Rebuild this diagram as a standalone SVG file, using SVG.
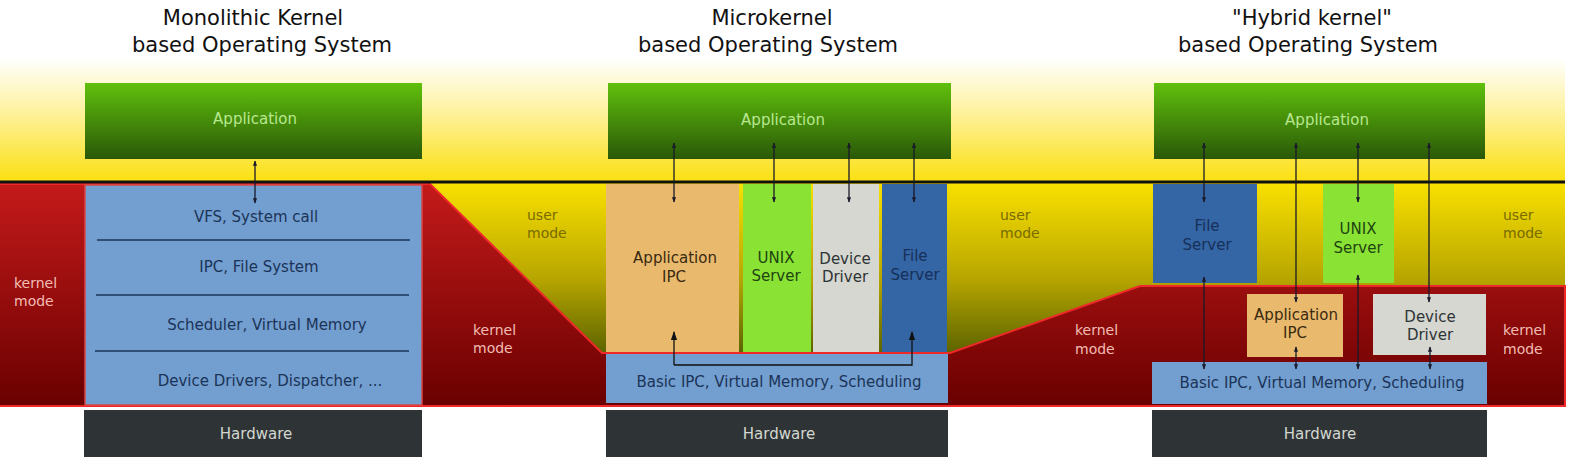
<svg xmlns="http://www.w3.org/2000/svg" width="1573" height="460" viewBox="0 0 1573 460">
<defs>
<linearGradient id="sky" gradientUnits="userSpaceOnUse" x1="0" y1="58" x2="0" y2="182">
<stop offset="0" stop-color="#ffffff"/>
<stop offset="0.45" stop-color="#fdf19a"/>
<stop offset="1" stop-color="#fbe010"/>
</linearGradient>
<linearGradient id="user" gradientUnits="userSpaceOnUse" x1="0" y1="184" x2="0" y2="355">
<stop offset="0" stop-color="#f8e000"/>
<stop offset="0.55" stop-color="#b8a600"/>
<stop offset="1" stop-color="#5a6200"/>
</linearGradient>
<linearGradient id="kern" gradientUnits="userSpaceOnUse" x1="0" y1="184" x2="0" y2="406">
<stop offset="0" stop-color="#c41a1a"/>
<stop offset="1" stop-color="#6a0000"/>
</linearGradient>
<linearGradient id="app" x1="0" y1="0" x2="0" y2="1">
<stop offset="0" stop-color="#60c00c"/>
<stop offset="1" stop-color="#2a5808"/>
</linearGradient>
<marker id="ah" viewBox="0 0 10 10" refX="9" refY="5" markerWidth="4" markerHeight="4" orient="auto-start-reverse">
<path d="M0,1 L10,5 L0,9 Z" fill="#1a1a2a"/>
</marker>
<marker id="big" viewBox="0 0 10 10" refX="9" refY="5" markerWidth="7" markerHeight="7" orient="auto">
<path d="M0,1.5 L10,5 L0,8.5 Z" fill="#111"/>
</marker>
</defs>
<style>
text{font-family:"DejaVu Sans","Liberation Sans",sans-serif;font-size:15px}
.title{font-size:21px;fill:#111;text-anchor:middle}
.c{text-anchor:middle}
.appt{fill:#b8e890}
.hwt{fill:#d3d7cf}
.blt{fill:#1c3358}
.km{fill:#f2bcb4;font-size:14px}
.um{fill:#7a6a00;font-size:14px}
.appbox{fill:url(#app)}
.hw{fill:#2e3436}
.blue{fill:#729fcf}
.sep{stroke:#1c3358;stroke-width:1.5}
.orange{fill:#e9b96e}
.green{fill:#8ae234}
.gray{fill:#d6d7d0}
.fs{fill:#3465a4}
.arr{stroke:#1a1a2a;stroke-width:1.3;fill:none;marker-start:url(#ah);marker-end:url(#ah)}
</style>
<rect x="0" y="0" width="1573" height="460" fill="#ffffff"/>
<g id="background">
<rect x="0" y="58" width="1565" height="125" fill="url(#sky)"/>
<rect x="0" y="183" width="1565" height="223" fill="url(#user)"/>
<path d="M0,184 L430,184 L602,353 L950,353 L1140,286 L1565,286 L1565,406 L0,406" fill="url(#kern)" stroke="#ef2929" stroke-width="2"/>
<rect x="0" y="180.5" width="1565" height="3" fill="#111"/>
</g>
<g id="titles">
<text class="title" x="253" y="25">Monolithic Kernel</text>
<text class="title" x="262" y="52">based Operating System</text>
<text class="title" x="772" y="25">Microkernel</text>
<text class="title" x="768" y="52">based Operating System</text>
<text class="title" x="1312" y="25">"Hybrid kernel"</text>
<text class="title" x="1308" y="52">based Operating System</text>
</g>
<g id="mode-labels">
<text class="km" x="14" y="288">kernel</text><text class="km" x="14" y="306">mode</text>
<text class="um" x="527" y="220">user</text><text class="um" x="527" y="238">mode</text>
<text class="km" x="473" y="335">kernel</text><text class="km" x="473" y="353">mode</text>
<text class="um" x="1000" y="220">user</text><text class="um" x="1000" y="238">mode</text>
<text class="km" x="1075" y="335">kernel</text><text class="km" x="1075" y="354">mode</text>
<text class="um" x="1503" y="220">user</text><text class="um" x="1503" y="238">mode</text>
<text class="km" x="1503" y="335">kernel</text><text class="km" x="1503" y="354">mode</text>
</g>
<g id="mono-app"><rect class="appbox" x="85" y="83" width="337" height="76"/><text class="appt c" x="255" y="124">Application</text></g>
<g id="mono-kernel">
<rect class="blue" x="85" y="185" width="337" height="220" stroke="#d94848" stroke-width="1.5"/>
<line class="sep" x1="97" y1="240" x2="410" y2="240"/>
<line class="sep" x1="96" y1="295" x2="409" y2="295"/>
<line class="sep" x1="95" y1="351" x2="409" y2="351"/>
<text class="blt c" x="256" y="222">VFS, System call</text>
<text class="blt c" x="259" y="272">IPC, File System</text>
<text class="blt c" x="267" y="330">Scheduler, Virtual Memory</text>
<text class="blt c" x="270" y="386">Device Drivers, Dispatcher, ...</text>
</g>
<g id="mono-hw"><rect class="hw" x="84" y="410" width="338" height="47"/><text class="hwt c" x="256" y="439">Hardware</text></g>

<g id="micro-app"><rect class="appbox" x="608" y="83" width="343" height="76"/><text class="appt c" x="783" y="125">Application</text></g>
<g id="micro-appipc"><rect class="orange" x="606" y="184" width="133" height="168"/><text class="c" fill="#3a2a10" x="675" y="263">Application</text><text class="c" fill="#3a2a10" x="674" y="282">IPC</text></g>
<g id="micro-unix"><rect class="green" x="743" y="184" width="68" height="168"/><text class="c" fill="#1e4410" x="776" y="263">UNIX</text><text class="c" fill="#1e4410" x="776" y="281">Server</text></g>
<g id="micro-dd"><rect class="gray" x="813" y="184" width="66" height="168"/><text class="c" fill="#2e3436" x="845" y="264">Device</text><text class="c" fill="#2e3436" x="845" y="282">Driver</text></g>
<g id="micro-fs"><rect class="fs" x="882" y="184" width="65" height="168"/><text class="c" fill="#17305a" x="915" y="261">File</text><text class="c" fill="#17305a" x="915" y="280">Server</text></g>
<g id="micro-kernel"><rect class="blue" x="606" y="354" width="342" height="49"/><text class="blt c" x="779" y="387">Basic IPC, Virtual Memory, Scheduling</text></g>
<g id="micro-hw"><rect class="hw" x="606" y="410" width="342" height="47"/><text class="hwt c" x="779" y="439">Hardware</text></g>

<g id="hyb-app"><rect class="appbox" x="1154" y="83" width="331" height="76"/><text class="appt c" x="1327" y="125">Application</text></g>
<g id="hyb-fs"><rect class="fs" x="1153" y="184" width="104" height="99"/><text class="c" fill="#17305a" x="1207" y="231">File</text><text class="c" fill="#17305a" x="1207" y="250">Server</text></g>
<g id="hyb-unix"><rect class="green" x="1323" y="184" width="71" height="99"/><text class="c" fill="#1e4410" x="1358" y="234">UNIX</text><text class="c" fill="#1e4410" x="1358" y="253">Server</text></g>
<g id="hyb-appipc"><rect class="orange" x="1247" y="294" width="96" height="63"/><text class="c" fill="#3a2a10" x="1296" y="320">Application</text><text class="c" fill="#3a2a10" x="1295" y="338">IPC</text></g>
<g id="hyb-dd"><rect class="gray" x="1373" y="294" width="113" height="61"/><text class="c" fill="#2e3436" x="1430" y="322">Device</text><text class="c" fill="#2e3436" x="1430" y="340">Driver</text></g>
<g id="hyb-kernel"><rect class="blue" x="1152" y="362" width="335" height="42"/><text class="blt c" x="1322" y="388">Basic IPC, Virtual Memory, Scheduling</text></g>
<g id="hyb-hw"><rect class="hw" x="1152" y="410" width="335" height="47"/><text class="hwt c" x="1320" y="439">Hardware</text></g>

<g id="connectors">
<line class="arr" x1="255" y1="161" x2="255" y2="203"/>
<line class="arr" x1="674" y1="143" x2="674" y2="202"/>
<line class="arr" x1="774" y1="143" x2="774" y2="202"/>
<line class="arr" x1="849" y1="143" x2="849" y2="202"/>
<line class="arr" x1="914" y1="143" x2="914" y2="202"/>
<path d="M674,365 L674,332" fill="none" stroke="#111" stroke-width="1.3" marker-end="url(#big)"/>
<path d="M674,365 L912,365 L912,332" fill="none" stroke="#111" stroke-width="1.3" marker-end="url(#big)"/>
<line class="arr" x1="1204" y1="143" x2="1204" y2="202"/>
<line class="arr" x1="1204" y1="277" x2="1204" y2="369"/>
<line class="arr" x1="1296" y1="143" x2="1296" y2="302"/>
<line class="arr" x1="1296" y1="347" x2="1296" y2="369"/>
<line class="arr" x1="1358" y1="143" x2="1358" y2="202"/>
<line class="arr" x1="1358" y1="275" x2="1358" y2="369"/>
<line class="arr" x1="1429" y1="143" x2="1429" y2="302"/>
<line class="arr" x1="1430" y1="347" x2="1430" y2="369"/>
</g>
</svg>
